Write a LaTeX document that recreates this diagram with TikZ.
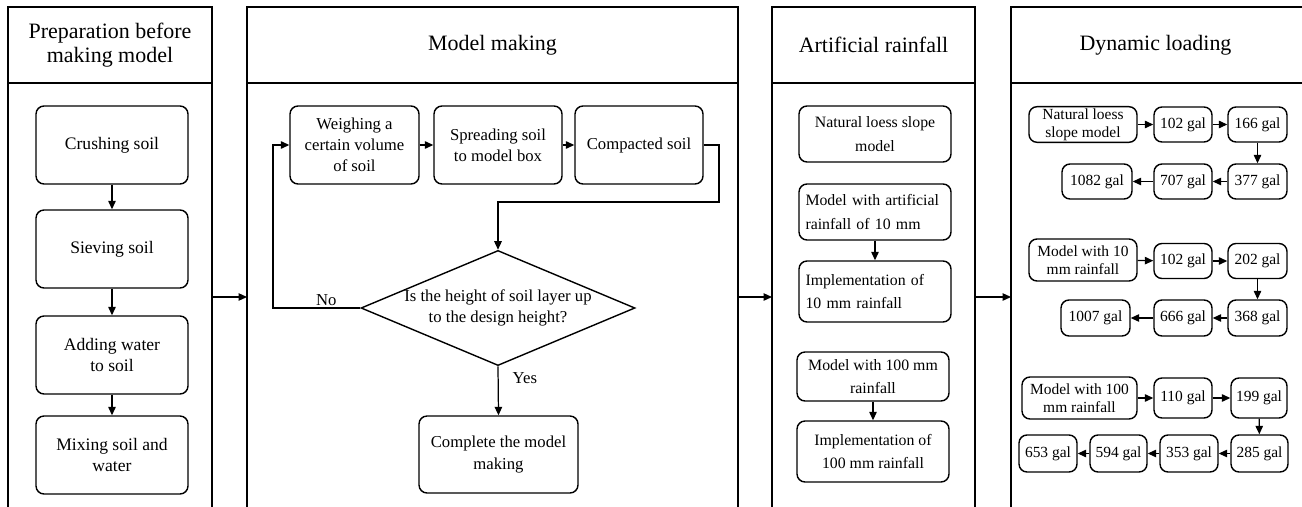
\documentclass[tikz,border=0pt]{standalone}
\usepackage{fontspec}
\setmainfont{Liberation Serif}
\usetikzlibrary{shapes.geometric,arrows.meta}

\tikzset{
  arr/.style={-{Triangle[length=1.7mm,width=1.5mm]}, line width=0.7pt},
  panel/.style={draw, line width=0.8pt},
  stepbox/.style={draw, rounded corners=1.6mm, line width=0.8pt, align=center, inner sep=1pt},
  paneltitle/.style={align=center, font=\fontsize{12.5}{14}\selectfont},
  txtA/.style={font=\fontsize{10}{12}\selectfont},
  txtB/.style={font=\fontsize{9.5}{12}\selectfont},
  txtC/.style={font=\fontsize{9}{13.4}\selectfont},
  txtD/.style={font=\fontsize{8.8}{10.3}\selectfont},
}

\begin{document}
\begin{tikzpicture}[x=0.02cm,y=-0.02cm]
\useasboundingbox (0,0) rectangle (1302,507);

% Draw panels
\draw[panel] (8,7) rectangle (212,515);
\draw[panel] (8,83) -- (212,83);
\draw[panel] (247,7) rectangle (738,515);
\draw[panel] (247,83) -- (738,83);
\draw[panel] (772,7) rectangle (975,515);
\draw[panel] (772,83) -- (975,83);
\draw[panel] (1011,7) rectangle (1306,515);
\draw[panel] (1011,83) -- (1306,83);

% Panel titles
\node[paneltitle] (t1) at (110,45) {Preparation before\\making model};
\node[paneltitle] (t2) at (492.5,45) {Model making};
\node[paneltitle] (t3) at (873.5,45) {Artificial rainfall};
\node[paneltitle] (t4) at (1155.5,45) {Dynamic loading};

% Links between panels
\coordinate (p1out) at (212,297);
\coordinate (p2in) at (247,297);
\coordinate (p2out) at (738,297);
\coordinate (p3in) at (772,297);
\coordinate (p3out) at (975,297);
\coordinate (p4in) at (1011,297);
\draw[arr] (p1out) -- (p2in);
\draw[arr] (p2out) -- (p3in);
\draw[arr] (p3out) -- (p4in);

% Preparation before making model
\node[stepbox, txtA, minimum width=3.04cm, minimum height=1.56cm] (crush) at (112,145) {Crushing soil};
\node[stepbox, txtA, minimum width=3.04cm, minimum height=1.56cm] (sieve) at (112,249) {Sieving soil};
\node[stepbox, txtA, minimum width=3.04cm, minimum height=1.56cm] (water) at (112,355) {Adding water\\to soil};
\node[stepbox, txtA, minimum width=3.04cm, minimum height=1.56cm] (mix) at (112,455) {Mixing soil and\\water};
\draw[arr] (crush) -- (sieve);
\draw[arr] (sieve) -- (water);
\draw[arr] (water) -- (mix);

% Model making
\node[stepbox, txtB, minimum width=2.58cm, minimum height=1.56cm] (weigh) at (354.5,145) {Weighing a\\certain volume\\of soil};
\node[stepbox, txtB, minimum width=2.56cm, minimum height=1.56cm] (spread) at (498,145) {Spreading soil\\to model box};
\node[stepbox, txtB, minimum width=2.56cm, minimum height=1.56cm] (compact) at (639,145) {Compacted soil};
\node[draw, diamond, aspect=2.38, inner sep=0pt, line width=0.8pt, txtB, align=center,
      minimum width=5.42cm, minimum height=2.28cm] (check) at (498,308) {Is the height of soil layer up\\to the design height?};
\node[stepbox, txtB, minimum width=3.18cm, minimum height=1.54cm] (done) at (498.5,454.5) {Complete the model\\making};
\coordinate (bend) at (719,202);
\coordinate (noturn) at (273,308);
\draw[arr] (weigh) -- (spread);
\draw[arr] (spread) -- (compact);
\draw[arr] (compact.east) -| (bend) -| (check.north);
\draw[arr] (check.west) -- node[txtB, above, pos=0.39, inner sep=1pt] {No} (noturn) |- (weigh.west);
\draw[arr] (check.south) -- node[txtB, right, pos=0.25, inner sep=0pt, xshift=0.28cm] {Yes} (done.north);

% Artificial rainfall
\node[stepbox, txtC, minimum width=3.04cm, minimum height=1.12cm] (nat) at (875,134) {Natural loess slope\\model};
\node[stepbox, txtC, align=left, text width=2.78cm, inner xsep=0.13cm, minimum height=1.12cm] (art10) at (875,212) {Model with artificial\\rainfall of 10 mm};
\node[stepbox, txtC, align=left, text width=2.78cm, inner xsep=0.13cm, minimum height=1.22cm] (imp10) at (875,291.5) {Implementation of\\10 mm rainfall};
\node[stepbox, txtC, minimum width=3.04cm, minimum height=0.98cm] (art100) at (873,376.5) {Model with 100 mm\\rainfall};
\node[stepbox, txtC, minimum width=3.04cm, minimum height=1.22cm] (imp100) at (873,451.5) {Implementation of\\100 mm rainfall};
\draw[arr] (art10) -- (imp10);
\draw[arr] (art100) -- (imp100);

% Dynamic loading, natural slope
\node[stepbox, txtD, minimum width=2.16cm, minimum height=0.70cm] (na) at (1083,124.5) {Natural loess\\slope model};
\node[stepbox, txtD, minimum width=1.16cm, minimum height=0.70cm] (na1) at (1183,124.5) {102 gal};
\node[stepbox, txtD, minimum width=1.18cm, minimum height=0.70cm] (na2) at (1257.5,124.5) {166 gal};
\node[stepbox, txtD, minimum width=1.18cm, minimum height=0.70cm] (na3) at (1257.5,181.5) {377 gal};
\node[stepbox, txtD, minimum width=1.16cm, minimum height=0.70cm] (na4) at (1183,181.5) {707 gal};
\node[stepbox, txtD, minimum width=1.40cm, minimum height=0.70cm] (na5) at (1097,181.5) {1082 gal};
\draw[arr] (na) -- (na1);
\draw[arr] (na1) -- (na2);
\draw[arr] (na2) -- (na3);
\draw[arr] (na3) -- (na4);
\draw[arr] (na4) -- (na5);

% Dynamic loading, 10 mm rainfall
\node[stepbox, txtD, minimum width=2.16cm, minimum height=0.84cm] (ra) at (1083,260) {Model with 10\\mm rainfall};
\node[stepbox, txtD, minimum width=1.16cm, minimum height=0.70cm] (ra1) at (1183,261) {102 gal};
\node[stepbox, txtD, minimum width=1.18cm, minimum height=0.70cm] (ra2) at (1257.5,261) {202 gal};
\node[stepbox, txtD, minimum width=1.18cm, minimum height=0.72cm] (ra3) at (1257.5,318) {368 gal};
\node[stepbox, txtD, minimum width=1.16cm, minimum height=0.72cm] (ra4) at (1183,318) {666 gal};
\node[stepbox, txtD, minimum width=1.38cm, minimum height=0.72cm] (ra5) at (1095.5,318) {1007 gal};
\draw[arr] (ra) -- (ra1);
\draw[arr] (ra1) -- (ra2);
\draw[arr] (ra2) -- (ra3);
\draw[arr] (ra3) -- (ra4);
\draw[arr] (ra4) -- (ra5);

% Dynamic loading, 100 mm rainfall
\node[stepbox, txtD, minimum width=2.30cm, minimum height=0.84cm] (rb) at (1079.5,398) {Model with 100\\mm rainfall};
\node[stepbox, txtD, minimum width=1.16cm, minimum height=0.80cm] (rb1) at (1183,398) {110 gal};
\node[stepbox, txtD, minimum width=1.12cm, minimum height=0.80cm] (rb2) at (1259,398) {199 gal};
\node[stepbox, txtD, minimum width=1.14cm, minimum height=0.74cm] (rb3) at (1259.5,453.5) {285 gal};
\node[stepbox, txtD, minimum width=1.16cm, minimum height=0.74cm] (rb4) at (1189,453.5) {353 gal};
\node[stepbox, txtD, minimum width=1.14cm, minimum height=0.74cm] (rb5) at (1118.5,453.5) {594 gal};
\node[stepbox, txtD, minimum width=1.16cm, minimum height=0.74cm] (rb6) at (1048,453.5) {653 gal};
\draw[arr] (rb) -- (rb1);
\draw[arr] (rb1) -- (rb2);
\draw[arr] (rb2) -- (rb3);
\draw[arr] (rb3) -- (rb4);
\draw[arr] (rb4) -- (rb5);
\draw[arr] (rb5) -- (rb6);
\end{tikzpicture}
\end{document}
